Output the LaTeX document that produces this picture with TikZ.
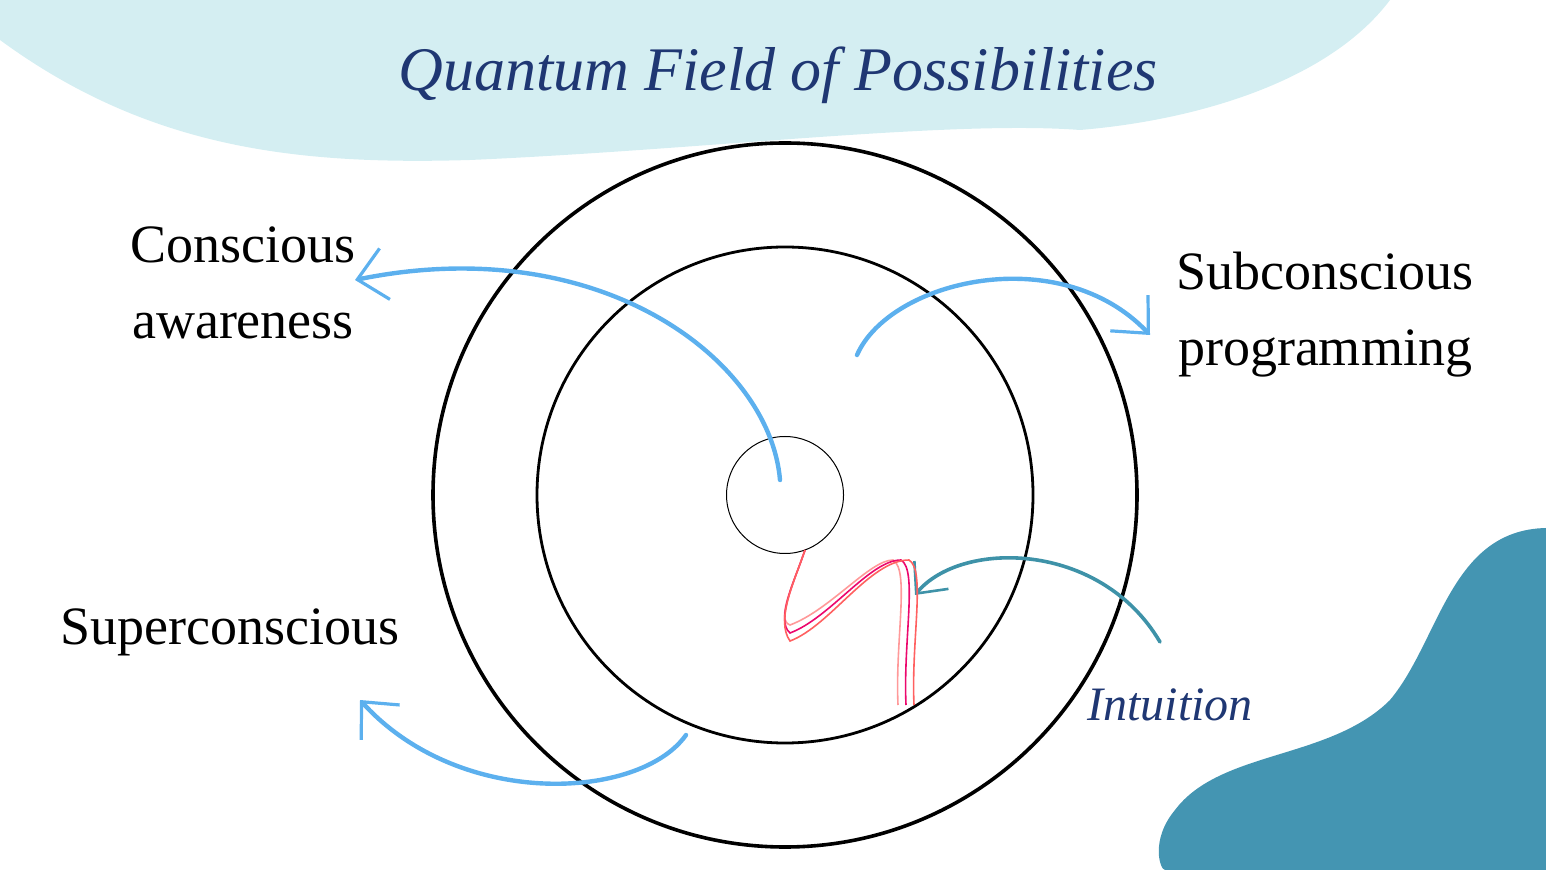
\documentclass[tikz,border=0pt]{standalone}
\usepackage{fontspec}
\setmainfont{Liberation Serif}
\usetikzlibrary{arrows.meta}
\definecolor{skyc}{HTML}{D4EEF2}
\definecolor{tealc}{HTML}{4495B2}
\definecolor{bluea}{HTML}{5CB0EE}
\definecolor{navy}{HTML}{1F3773}
\definecolor{teala}{HTML}{3E92A8}
\tikzset{barrow/.style={draw=bluea,line width=2.2pt,line cap=round,-{Straight Barb[length=14pt,width=26pt,line width=1.6pt]}},
lbl/.style={font=\fontsize{27}{38}\selectfont,align=center},
ring/.style={draw=black,line width=#1,circle,inner sep=0pt}}
\begin{document}
\begin{tikzpicture}[x=0.5pt,y=-0.5pt]
\useasboundingbox (0,0) rectangle (1546,870);
\fill[skyc] (0,0) -- (0,40) .. controls (150,150) and (300,165) .. (470,160) .. controls (700,150) and (950,120) .. (1080,130) .. controls (1200,120) and (1330,80) .. (1390,0) -- cycle;
\fill[tealc] (1546,528) .. controls (1450,530) and (1440,640) .. (1390,700) .. controls (1330,760) and (1220,750) .. (1175,810) .. controls (1150,840) and (1160,870) .. (1165,870) -- (1546,870) -- cycle;
\node[font=\itshape\fontsize{31}{34}\selectfont,text=navy] (title) at (778,75) {Quantum Field of Possibilities};
\node[ring=1.8pt,minimum size=352pt] (outer) at (785,495) {};
\node[ring=1.4pt,minimum size=248pt] (mid) at (785,495) {};
\node[ring=0.5pt,minimum size=58.5pt] (core) at (785,495) {};
\node[lbl] (ca) at (243,283) {Conscious\\awareness};
\node[lbl] (sp) at (1325,315) {Subconscious\\programming};
\node[lbl] (su) at (230,632) {Superconscious};
\node[font=\itshape\fontsize{24}{26}\selectfont,text=navy] (in) at (1170,705) {Intuition};
\coordinate (c1) at (780,480);
\coordinate (c2) at (355,280);
\coordinate (s1) at (857,355);
\coordinate (s2) at (1150,335);
\coordinate (u1) at (686,735);
\coordinate (u2) at (360,700);
\coordinate (i1) at (1160,642);
\coordinate (i2) at (915,595);
\draw[barrow] (c1) .. controls (770,360) and (600,230) .. (c2);
\draw[barrow] (s1) .. controls (890,280) and (1060,240) .. (s2);
\draw[barrow] (u1) .. controls (640,800) and (460,810) .. (u2);
\draw[draw=teala,line width=1.8pt,line cap=round,-{Straight Barb[length=12pt,width=22pt,line width=1.3pt]}] (i1) .. controls (1100,540) and (960,540) .. (i2);
\foreach \d/\c in {0/pink!80!red,8/magenta!70!red,16/red!50!pink}{
\draw[\c,line width=0.8pt] (805,550) .. controls (795,580) and (775,620) .. ([yshift=-\d*0.5]790,625) .. controls ([yshift=-\d*0.5]830,610) and (870,560) .. ([xshift=\d*0.5]893,560) .. controls ([xshift=\d*0.5]910,570) and ([xshift=\d*0.5]895,640) .. ([xshift=\d*0.5]898,705);}
\end{tikzpicture}
\end{document}
